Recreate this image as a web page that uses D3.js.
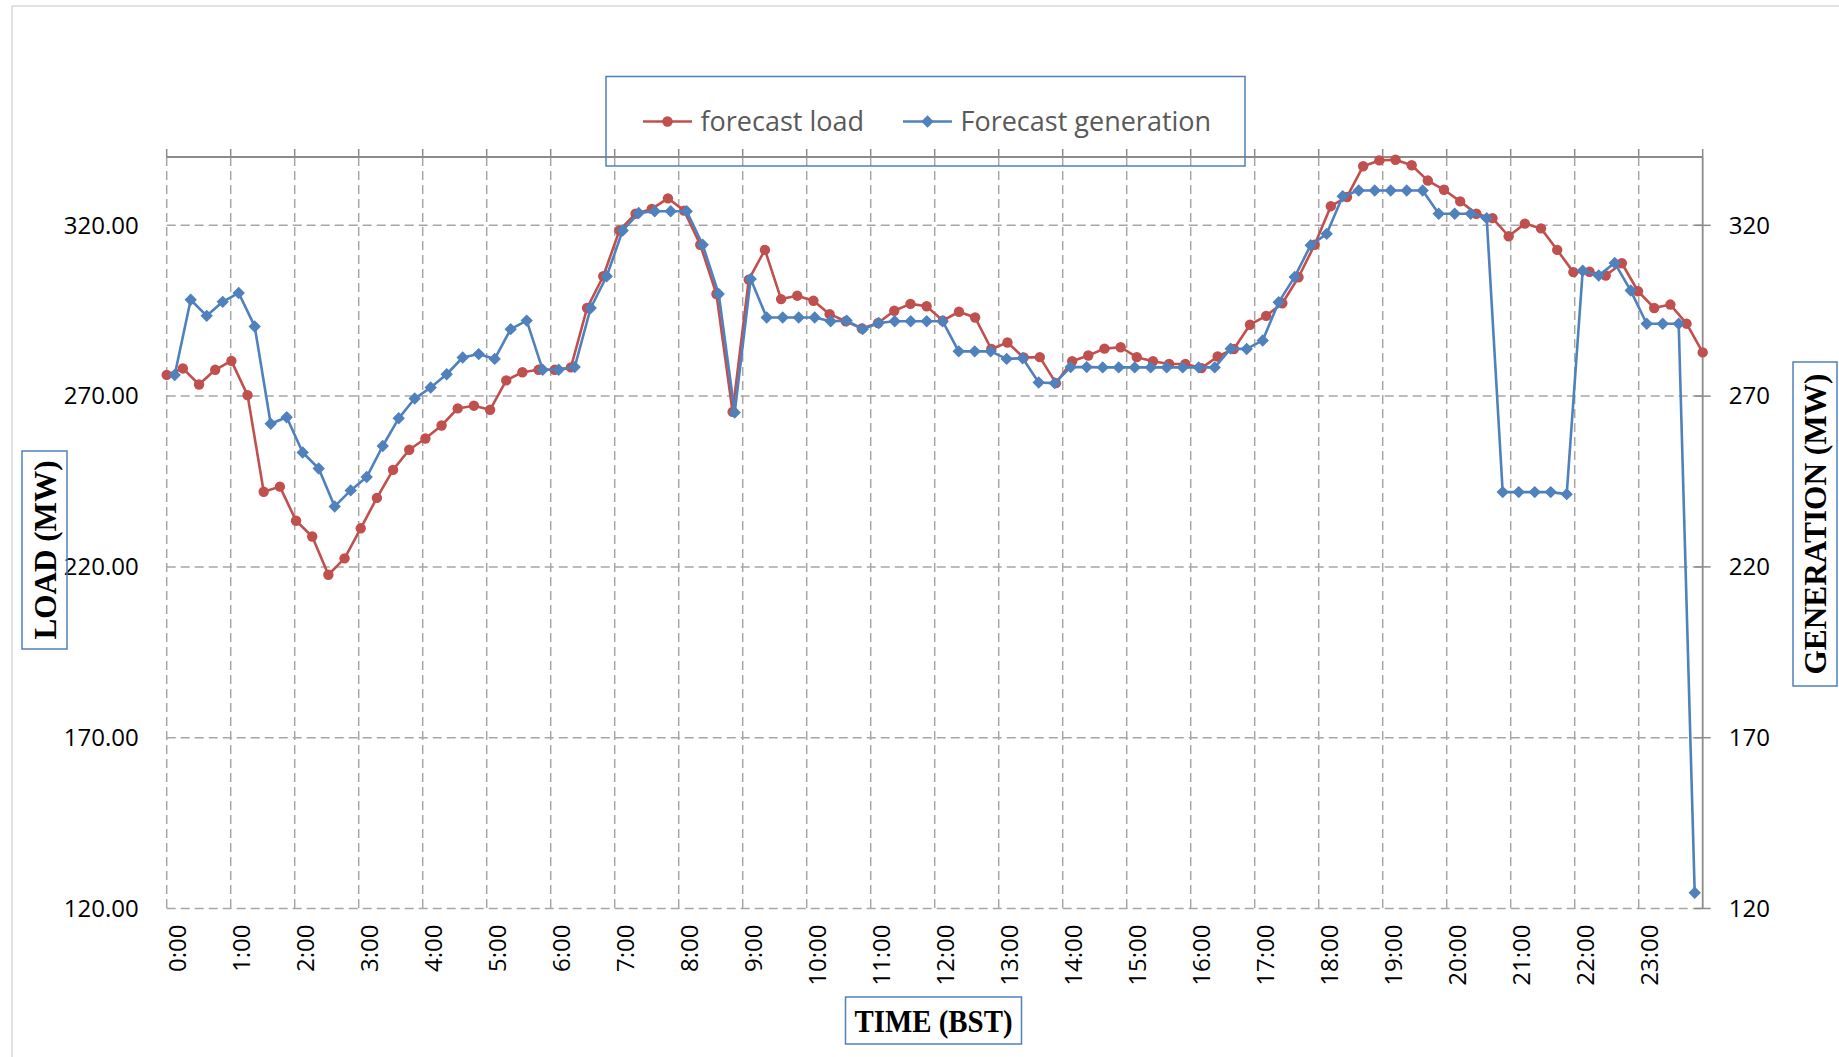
<!DOCTYPE html>
<html><head><meta charset="utf-8">
<script src="https://cdn.jsdelivr.net/npm/d3@7"></script>
<style>body{margin:0;background:#fff;}svg{display:block;}</style>
</head><body>
<svg id="chart" width="1839" height="1057"></svg>
<script>
// ---- data ----
const hourLabels = ["0:00","1:00","2:00","3:00","4:00","5:00","6:00","7:00","8:00","9:00","10:00","11:00",
  "12:00","13:00","14:00","15:00","16:00","17:00","18:00","19:00","20:00","21:00","22:00","23:00"];
const quarterMinutes = ["00","15","30","45"];
const slots = hourLabels.flatMap(h => quarterMinutes.map(m => h.replace(":00", ":" + m)));

const forecastLoad = [
  276.2, 278.1, 273.4, 277.7, 280.3, 270.3, 242.0, 243.5, 233.5, 228.9, 217.7, 222.5, 231.3, 240.2, 248.4, 254.3,
  257.6, 261.4, 266.4, 267.2, 266.0, 274.6, 277.0, 277.7, 277.7, 278.4, 295.8, 305.1, 318.5, 323.4, 324.8, 327.9,
  324.3, 314.3, 299.9, 265.4, 304.1, 312.8, 298.4, 299.4, 297.9, 294.0, 291.9, 289.8, 291.4, 295.0, 297.0, 296.3,
  292.1, 294.7, 293.0, 283.8, 285.7, 281.3, 281.4, 273.8, 280.2, 281.9, 283.9, 284.3, 281.4, 280.2, 279.4, 279.4,
  278.2, 281.6, 283.8, 290.9, 293.5, 297.2, 304.8, 314.3, 325.6, 328.3, 337.3, 339.0, 339.2, 337.6, 333.1, 330.4,
  327.0, 323.4, 322.1, 316.8, 320.5, 319.1, 312.8, 306.3, 306.4, 305.3, 308.9, 300.7, 295.8, 296.8, 291.2, 282.8
];
const forecastGeneration = [
  276.2, 298.2, 293.5, 297.6, 300.2, 290.4, 261.9, 263.8, 253.5, 248.8, 237.7, 242.4, 246.3, 255.4, 263.5, 269.3,
  272.5, 276.4, 281.3, 282.3, 280.9, 289.6, 292.1, 277.7, 277.7, 278.5, 295.8, 305.1, 318.5, 323.6, 324.1, 324.1,
  324.1, 314.3, 299.9, 265.2, 304.3, 293.0, 293.0, 293.0, 293.0, 291.9, 292.1, 289.6, 291.4, 291.9, 291.9, 291.9,
  291.9, 283.1, 283.1, 283.1, 280.9, 281.1, 274.0, 273.8, 278.5, 278.5, 278.4, 278.4, 278.4, 278.4, 278.4, 278.4,
  278.4, 278.4, 283.9, 283.8, 286.3, 297.5, 304.9, 314.2, 317.5, 328.5, 330.2, 330.2, 330.2, 330.2, 330.2, 323.4,
  323.4, 323.4, 322.1, 241.9, 241.9, 241.9, 241.9, 241.3, 306.7, 305.3, 309.0, 300.9, 291.2, 291.2, 291.2, 124.6
];
const yTicks = [120, 170, 220, 270, 320];
const yDomain = [120, 340];
const seriesNames = ["forecast load", "Forecast generation"];

// ---- layout ----
const L = 166.7, R = 1702.7, T = 157, B = 908.5;
const RED = "#C0504D", BLUE = "#4F81BD", GRID = "#A6A6A6", AXIS = "#8C8C8C";
const svg = d3.select("#chart");

// chart area border
svg.append("rect").attr("x", 12).attr("y", 6).attr("width", 1900).attr("height", 1200)
  .attr("fill", "none").attr("stroke", "#D9D9D9").attr("stroke-width", 1.5);

const y = d3.scaleLinear().domain(yDomain).range([B, T]);
const xBand = d3.scaleBand().domain(slots).range([L, R]).padding(0);
const xPoint = d3.scalePoint().domain(slots).range([L, R]);

// horizontal gridlines
svg.append("g").selectAll("line").data(yTicks).join("line")
  .attr("x1", L).attr("x2", R).attr("y1", d => y(d)).attr("y2", d => y(d))
  .attr("stroke", GRID).attr("stroke-width", 1.5).attr("stroke-dasharray", "9,5");

// vertical gridlines at hour boundaries
svg.append("g").selectAll("line").data(hourLabels).join("line")
  .attr("x1", d => xBand(d)).attr("x2", d => xBand(d)).attr("y1", T).attr("y2", B)
  .attr("stroke", GRID).attr("stroke-width", 1.5).attr("stroke-dasharray", "9,5");

// top axis line with ticks
svg.append("line").attr("x1", L).attr("x2", R).attr("y1", T).attr("y2", T)
  .attr("stroke", AXIS).attr("stroke-width", 1.8);
svg.append("g").selectAll("line").data(hourLabels).join("line")
  .attr("x1", d => xBand(d)).attr("x2", d => xBand(d)).attr("y1", T - 8).attr("y2", T)
  .attr("stroke", AXIS).attr("stroke-width", 1.5);
svg.append("line").attr("x1", R).attr("x2", R).attr("y1", T - 8).attr("y2", T)
  .attr("stroke", AXIS).attr("stroke-width", 1.5);

// right axis line with ticks
svg.append("line").attr("x1", R).attr("x2", R).attr("y1", T).attr("y2", B)
  .attr("stroke", AXIS).attr("stroke-width", 1.8);
svg.append("g").selectAll("line").data(yTicks).join("line")
  .attr("x1", R - 8).attr("x2", R + 8).attr("y1", d => y(d)).attr("y2", d => y(d))
  .attr("stroke", AXIS).attr("stroke-width", 1.5);

// left tick labels
const gl = svg.append("g").attr("transform", `translate(${L},0)`)
  .call(d3.axisLeft(y).tickValues(yTicks).tickFormat(d3.format(".2f")).tickSize(0).tickPadding(28));
gl.select(".domain").remove();
gl.selectAll("text").attr("font-family", "'Open Sans', sans-serif").attr("font-size", 24).attr("fill", "#000");

// right tick labels
const gr = svg.append("g").attr("transform", `translate(${R},0)`)
  .call(d3.axisRight(y).tickValues(yTicks).tickFormat(d3.format("d")).tickSize(0).tickPadding(26));
gr.select(".domain").remove();
gr.selectAll("text").attr("font-family", "'Open Sans', sans-serif").attr("font-size", 24).attr("fill", "#000");

// bottom tick labels (rotated)
const gb = svg.append("g").attr("transform", `translate(0,${B})`)
  .call(d3.axisBottom(xBand).tickValues(hourLabels).tickSize(0));
gb.select(".domain").remove();
gb.selectAll("text")
  .attr("font-family", "'Open Sans', sans-serif").attr("font-size", 24).attr("fill", "#000")
  .attr("transform", "rotate(-90)").attr("text-anchor", "end")
  .attr("x", -16).attr("y", 3).attr("dy", "0.36em");

// series lines
const lineLoad = d3.line().x((d, i) => xPoint(slots[i])).y(d => y(d));
const lineGen = d3.line().x((d, i) => xBand(slots[i]) + xBand.bandwidth() / 2).y(d => y(d));
const diamond = "M0,-6.2L6.2,0L0,6.2L-6.2,0Z";

svg.append("path").datum(forecastLoad).attr("d", lineLoad)
  .attr("fill", "none").attr("stroke", RED).attr("stroke-width", 2.6).attr("stroke-linejoin", "round");
svg.append("g").selectAll("circle").data(forecastLoad).join("circle")
  .attr("cx", (d, i) => xPoint(slots[i])).attr("cy", d => y(d)).attr("r", 5.2).attr("fill", RED);

svg.append("path").datum(forecastGeneration).attr("d", lineGen)
  .attr("fill", "none").attr("stroke", BLUE).attr("stroke-width", 2.6).attr("stroke-linejoin", "round");
svg.append("g").selectAll("path").data(forecastGeneration).join("path")
  .attr("d", diamond)
  .attr("transform", (d, i) => `translate(${xBand(slots[i]) + xBand.bandwidth() / 2},${y(d)})`)
  .attr("fill", BLUE);

// legend
const lg = svg.append("g");
lg.append("rect").attr("x", 606).attr("y", 76.5).attr("width", 639).attr("height", 89.5)
  .attr("fill", "none").attr("stroke", BLUE).attr("stroke-width", 1.5);
const legendItems = [
  {name: seriesNames[0], color: RED, x0: 643, type: "circle"},
  {name: seriesNames[1], color: BLUE, x0: 903, type: "diamond"}
];
legendItems.forEach(it => {
  lg.append("line").attr("x1", it.x0).attr("x2", it.x0 + 49).attr("y1", 121.5).attr("y2", 121.5)
    .attr("stroke", it.color).attr("stroke-width", 2.6);
  if (it.type === "circle") {
    lg.append("circle").attr("cx", it.x0 + 24.5).attr("cy", 121.5).attr("r", 5.2).attr("fill", it.color);
  } else {
    lg.append("path").attr("d", diamond).attr("transform", `translate(${it.x0 + 24.5},121.5)`).attr("fill", it.color);
  }
  lg.append("text").attr("x", it.x0 + 57.5).attr("y", 130.5).text(it.name)
    .attr("font-family", "'Open Sans', sans-serif").attr("font-size", 27).attr("fill", "#595959");
});

// axis titles
function titleBox(x, yy, w, h) {
  svg.append("rect").attr("x", x).attr("y", yy).attr("width", w).attr("height", h)
    .attr("fill", "#fff").attr("fill-opacity", 0).attr("stroke", BLUE).attr("stroke-width", 1.5);
}
titleBox(22, 451, 45, 198);
titleBox(1793, 362, 44, 324);
titleBox(845.5, 997, 176, 47);
const titleFont = "'Liberation Serif', 'Times New Roman', serif";
svg.append("text").text("LOAD (MW)")
  .attr("transform", "translate(44.5,550) rotate(-90)").attr("text-anchor", "middle").attr("dy", "0.35em")
  .attr("textLength", 179).attr("lengthAdjust", "spacingAndGlyphs")
  .attr("font-family", titleFont).attr("font-weight", "bold").attr("font-size", 32).attr("fill", "#000");
svg.append("text").text("GENERATION (MW)")
  .attr("transform", "translate(1815,524) rotate(-90)").attr("text-anchor", "middle").attr("dy", "0.35em")
  .attr("textLength", 301).attr("lengthAdjust", "spacingAndGlyphs")
  .attr("font-family", titleFont).attr("font-weight", "bold").attr("font-size", 32).attr("fill", "#000");
svg.append("text").text("TIME (BST)")
  .attr("x", 933.5).attr("y", 1020.5).attr("text-anchor", "middle").attr("dy", "0.35em")
  .attr("textLength", 158).attr("lengthAdjust", "spacingAndGlyphs")
  .attr("font-family", titleFont).attr("font-weight", "bold").attr("font-size", 32).attr("fill", "#000");
</script>
</body></html>
